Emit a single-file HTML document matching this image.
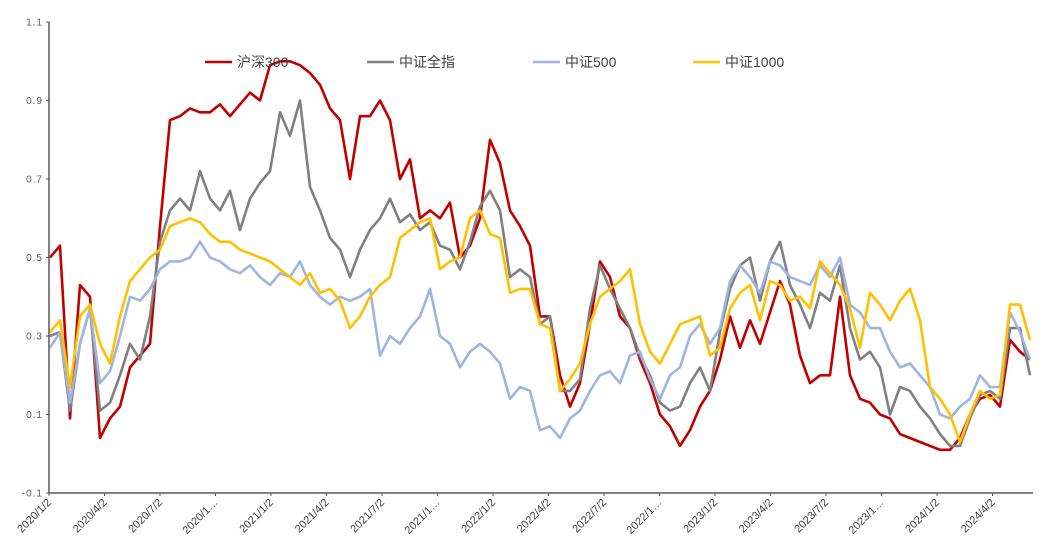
<!DOCTYPE html>
<html><head><meta charset="utf-8">
<style>
html,body{margin:0;padding:0;background:#fff;}
svg{display:block;}
text{font-family:"Liberation Sans","Noto Sans CJK SC",sans-serif;}
</style></head>
<body>
<svg id="chart" width="1056" height="558" viewBox="0 0 1056 558" xmlns="http://www.w3.org/2000/svg">
  <g id="series"></g>
  <g id="axes"></g>
  <g id="legend"></g>
</svg>
<script>
const seriesNames = ["沪深300","中证全指","中证500","中证1000"];
const seriesColors = ["#c00000","#808080","#9fb4e0","#ffc000"];
const yTicks = [-0.1,0.1,0.3,0.5,0.7,0.9,1.1];
const yTickLabels = ["-0.1","0.1","0.3","0.5","0.7","0.9","1.1"];
const xTickLabels = ["2020/1/2","2020/4/2","2020/7/2","2020/1…","2021/1/2","2021/4/2","2021/7/2","2021/1…","2022/1/2","2022/4/2","2022/7/2","2022/1…","2023/1/2","2023/4/2","2023/7/2","2023/1…","2024/1/2","2024/4/2"];
const hs300 = [0.50,0.53,0.09,0.43,0.40,0.04,0.09,0.12,0.22,0.25,0.28,0.58,0.85,0.86,0.88,0.87,0.87,0.89,0.86,0.89,0.92,0.90,0.99,1.0,1.0,0.99,0.97,0.94,0.88,0.85,0.70,0.86,0.86,0.90,0.85,0.70,0.75,0.60,0.62,0.60,0.64,0.50,0.53,0.60,0.80,0.74,0.62,0.58,0.53,0.35,0.35,0.20,0.12,0.18,0.33,0.49,0.45,0.35,0.32,0.24,0.18,0.10,0.07,0.02,0.06,0.12,0.16,0.24,0.35,0.27,0.34,0.28,0.36,0.44,0.38,0.25,0.18,0.20,0.20,0.40,0.20,0.14,0.13,0.10,0.09,0.05,0.04,0.03,0.02,0.01,0.01,0.04,0.10,0.14,0.15,0.12,0.29,0.26,0.24];
const csiAll = [0.30,0.31,0.11,0.28,0.37,0.11,0.13,0.20,0.28,0.24,0.35,0.54,0.62,0.65,0.62,0.72,0.65,0.62,0.67,0.57,0.65,0.69,0.72,0.87,0.81,0.90,0.68,0.62,0.55,0.52,0.45,0.52,0.57,0.60,0.65,0.59,0.61,0.57,0.59,0.53,0.52,0.47,0.54,0.63,0.67,0.62,0.45,0.47,0.45,0.33,0.35,0.16,0.16,0.19,0.37,0.48,0.42,0.37,0.32,0.25,0.20,0.13,0.11,0.12,0.18,0.22,0.16,0.31,0.42,0.48,0.50,0.39,0.49,0.54,0.43,0.38,0.32,0.41,0.39,0.48,0.32,0.24,0.26,0.22,0.10,0.17,0.16,0.12,0.09,0.05,0.02,0.02,0.09,0.15,0.16,0.14,0.32,0.32,0.20];
const csi500 = [0.27,0.31,0.13,0.28,0.37,0.18,0.21,0.30,0.40,0.39,0.42,0.47,0.49,0.49,0.50,0.54,0.50,0.49,0.47,0.46,0.48,0.45,0.43,0.46,0.45,0.49,0.43,0.40,0.38,0.40,0.39,0.40,0.42,0.25,0.30,0.28,0.32,0.35,0.42,0.30,0.28,0.22,0.26,0.28,0.26,0.23,0.14,0.17,0.16,0.06,0.07,0.04,0.09,0.11,0.16,0.20,0.21,0.18,0.25,0.26,0.19,0.14,0.20,0.22,0.30,0.33,0.28,0.32,0.44,0.48,0.45,0.41,0.49,0.48,0.45,0.44,0.43,0.48,0.45,0.50,0.38,0.36,0.32,0.32,0.26,0.22,0.23,0.20,0.17,0.10,0.09,0.12,0.14,0.20,0.17,0.17,0.36,0.31,0.24];
const csi1000 = [0.31,0.34,0.17,0.35,0.38,0.28,0.23,0.35,0.44,0.47,0.50,0.52,0.58,0.59,0.60,0.59,0.56,0.54,0.54,0.52,0.51,0.50,0.49,0.47,0.45,0.43,0.46,0.41,0.42,0.39,0.32,0.35,0.40,0.43,0.45,0.55,0.57,0.59,0.60,0.47,0.49,0.50,0.60,0.62,0.56,0.55,0.41,0.42,0.42,0.33,0.32,0.16,0.19,0.23,0.33,0.40,0.42,0.44,0.47,0.33,0.26,0.23,0.28,0.33,0.34,0.35,0.25,0.27,0.37,0.41,0.43,0.34,0.44,0.43,0.39,0.40,0.37,0.49,0.46,0.43,0.37,0.27,0.41,0.38,0.34,0.39,0.42,0.34,0.17,0.14,0.10,0.03,0.10,0.16,0.14,0.15,0.38,0.38,0.29];
const seriesData = [hs300, csiAll, csi500, csi1000];

const NS = "http://www.w3.org/2000/svg";
const plotL = 49, plotR = 1033, yTop = 22, yBot = 493;
const yMin = -0.1, yMax = 1.1;
function yScale(v){ return yTop + (yMax - v) / (yMax - yMin) * (yBot - yTop); }
function xIndex(i, n){ return 50 + i * (1030 - 50) / (n - 1); }
function xQuarter(q){ return plotL + q * 55.5; }
function mk(tag, attrs, parent){ const e = document.createElementNS(NS, tag); for (const k in attrs) e.setAttribute(k, attrs[k]); parent.appendChild(e); return e; }

const axes = document.getElementById('axes');
const series = document.getElementById('series');
const legend = document.getElementById('legend');

// y axis
const yAxis = mk('line', {x1:plotL, y1:yTop, x2:plotL, y2:yBot, stroke:'#595959', 'stroke-width':1.5}, axes);


yTicks.forEach((v, i) => {
  const y = yScale(v);
  const tk = mk('line', {x1:plotL-3, y1:y, x2:plotL, y2:y, stroke:'#595959', 'stroke-width':1}, axes);
  
  
  const t = mk('text', {x:plotL-6, y:y+3.5, 'text-anchor':'end', 'font-size':10, fill:'#595959', 'letter-spacing':'1'}, axes);
  t.textContent = yTickLabels[i];
  
  
});
// x axis
const xAxis = mk('line', {x1:plotL, y1:yBot, x2:plotR, y2:yBot, stroke:'#595959', 'stroke-width':1.5}, axes);


xTickLabels.forEach((lab, q) => {
  const x = xQuarter(q);
  const tk = mk('line', {x1:x, y1:yBot, x2:x, y2:yBot+3, stroke:'#595959', 'stroke-width':1}, axes);
  
  
  const t = mk('text', {x:x+3, y:yBot+10, 'text-anchor':'end', 'font-size':11, fill:'#404040', transform:`rotate(-45 ${x+3} ${yBot+10})`}, axes);
  t.textContent = lab;
  
  
});
// series
seriesData.forEach((arr, s) => {
  const d = arr.map((v, i) => (i ? 'L' : 'M') + xIndex(i, arr.length).toFixed(1) + ',' + yScale(v).toFixed(1)).join('');
  const p = mk('path', {d:d, fill:'none', stroke:seriesColors[s], 'stroke-width':2.6, 'stroke-linejoin':'round'}, series);
  
  
});
// legend
const legX = [205, 367, 533, 693];
seriesNames.forEach((nm, s) => {
  const g = mk('g', {}, legend);
  
  
  mk('line', {x1:legX[s], y1:62, x2:legX[s]+27, y2:62, stroke:seriesColors[s], 'stroke-width':2.6}, g);
  const t = mk('text', {x:legX[s]+32, y:67, 'font-size':14, fill:'#404040'}, g);
  t.textContent = nm;
});
</script>
</body></html>
